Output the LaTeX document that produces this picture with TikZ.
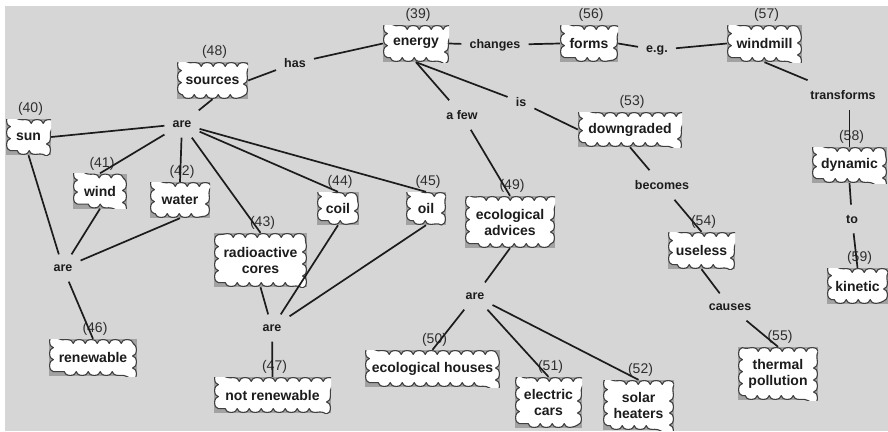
\documentclass[tikz,border=0pt]{standalone}
\usepackage{fontspec}
\setmainfont{Liberation Sans}
\usetikzlibrary{decorations.pathmorphing}
\definecolor{bggray}{HTML}{D6D6D6}
\definecolor{boxgray}{HTML}{A2A2A2}
\definecolor{puffedge}{HTML}{404040}
\definecolor{ink}{HTML}{1C1C1C}
\definecolor{numgray}{HTML}{2E2E2E}
\tikzset{
  concept/.style={rectangle, fill=boxgray, inner sep=0pt, align=center,
    font=\fontsize{14}{16}\selectfont\bfseries, text=ink,
    path picture={\draw[puffedge, line width=1.1pt, fill=white, line join=round, decorate,
        decoration={bumps, segment length=24pt, amplitude=3.8pt}]
      ([xshift=4.4pt,yshift=4.4pt]path picture bounding box.south west) rectangle
      ([xshift=-4.4pt,yshift=-4.4pt]path picture bounding box.north east);}},
  box/.style 2 args={minimum width=#1pt, minimum height=#2pt},
  cmapnum/.style={label={[num]above:(#1)}},
  num/.style={font=\fontsize{14}{16}\selectfont, text=numgray, inner sep=0pt, xshift=2pt},
  linkword/.style={rectangle, inner xsep=8pt, inner ysep=10pt,
    font=\fontsize{12.5}{14}\selectfont\bfseries, text=ink},
  link/.style={draw=ink, line width=1.7pt},
}
\begin{document}
\begin{tikzpicture}[x=1pt, y=-1pt, label distance=3pt]
\useasboundingbox (0,0) rectangle (888,431);
\fill[white] (0,0) rectangle (888,431);
\fill[bggray] (5,6) rectangle (888,431);

% concepts
\node[concept, box={66}{37}, cmapnum=39] (energy) at (416,43.5) {energy};
\node[concept, box={58}{37}, cmapnum=56] (forms) at (589,43.5) {forms};
\node[concept, box={75}{37}, cmapnum=57] (windmill) at (764.5,43.5) {windmill};
\node[concept, box={71}{37}, cmapnum=48] (sources) at (212.5,80.5) {sources};
\node[concept, box={45}{36}, cmapnum=40] (sun) at (28.5,137) {sun};
\node[concept, box={54}{35}, cmapnum=41] (wind) at (100,191) {wind};
\node[concept, box={60}{36}, cmapnum=42] (water) at (180,200) {water};
\node[concept, box={42}{33}, cmapnum=44] (coil) at (338,208.5) {coil};
\node[concept, box={40}{33}, cmapnum=45] (oil) at (426,208.5) {oil};
\node[concept, box={90}{52}, cmapnum=49] (ecoadv) at (510,222) {ecological\\advices};
\node[concept, box={93}{54}, cmapnum=43] (radio) at (260.5,260) {radioactive\\cores};
\node[concept, box={104}{35}, cmapnum=53] (downgraded) at (630,129.5) {downgraded};
\node[concept, box={75}{36}, cmapnum=58] (dynamic) at (849.5,165) {dynamic};
\node[concept, box={67}{37}, cmapnum=54] (useless) at (701.5,250.5) {useless};
\node[concept, box={61}{36}, cmapnum=59] (kinetic) at (857.5,286) {kinetic};
\node[concept, box={88}{37}, cmapnum=46] (renewable) at (93,357.5) {renewable};
\node[concept, box={117}{36}, cmapnum=47] (notrenew) at (272.5,395) {not renewable};
\node[concept, box={135}{37}, cmapnum=50] (houses) at (432.5,368.5) {ecological houses};
\node[concept, box={67}{51}, cmapnum=51] (cars) at (548.5,402.5) {electric\\cars};
\node[concept, box={71}{50}, cmapnum=52] (heaters) at (638.5,405) {solar\\heaters};
\node[concept, box={80}{53}, cmapnum=55] (thermal) at (778,373.5) {thermal\\pollution};

% linking words
\node[linkword] (has) at (295,63) {has};
\node[linkword] (changes) at (495,45) {changes};
\node[linkword] (eg) at (657,50) {e.g.};
\node[linkword] (areA) at (182,124) {are};
\node[linkword] (afew) at (462,115) {a few};
\node[linkword] (is) at (521,102) {is};
\node[linkword] (transforms) at (843,95) {transforms};
\node[linkword] (becomes) at (662,185) {becomes};
\node[linkword] (to) at (852,219) {to};
\node[linkword] (areB) at (63,268) {are};
\node[linkword] (areC) at (272,328) {are};
\node[linkword] (areD) at (475,296) {are};
\node[linkword] (causes) at (730,307) {causes};

% connectors
\draw[link] (sources.east) -- (has);
\draw[link] (has) -- (energy.west);
\draw[link] (energy.east) -- (changes);
\draw[link] (changes) -- (forms.west);
\draw[link] (forms.east) -- (eg);
\draw[link] (eg) -- (windmill.west);
\draw[link] (windmill.south) -- (transforms);
\draw[link] (transforms.south -| dynamic.north) -- (dynamic.north);
\draw[link] (dynamic.south) -- (to);
\draw[link] (to) -- (kinetic.north);
\draw[link] (energy.south) -- (afew);
\draw[link] (energy.south) -- (is);
\draw[link] (is) -- (downgraded.west);
\draw[link] (afew) -- (ecoadv.north);
\draw[link] (downgraded.south) -- (becomes);
\draw[link] (becomes) -- (useless.north);
\draw[link] (useless.south) -- (causes);
\draw[link] (causes) -- (thermal.north);
\draw[link] (sources.south) -- (areA);
\draw[link] (areA) -- (sun.east);
\draw[link] (areA) -- (wind.north);
\draw[link] (areA) -- (water.north);
\draw[link] (areA) -- (radio.north);
\draw[link] (areA) -- (coil.north);
\draw[link] (areA) -- (oil.north);
\draw[link] (sun.south) -- (areB);
\draw[link] (wind.south) -- (areB);
\draw[link] (water.south) -- (areB);
\draw[link] (areB) -- (renewable.north);
\draw[link] (radio.south) -- (areC);
\draw[link] (coil.south) -- (areC);
\draw[link] (oil.south) -- (areC);
\draw[link] (areC) -- (notrenew.north);
\draw[link] (ecoadv.south) -- (areD);
\draw[link] (areD) -- (houses.north);
\draw[link] (areD) -- (cars.north);
\draw[link] (areD) -- (heaters.north);
\end{tikzpicture}
\end{document}
